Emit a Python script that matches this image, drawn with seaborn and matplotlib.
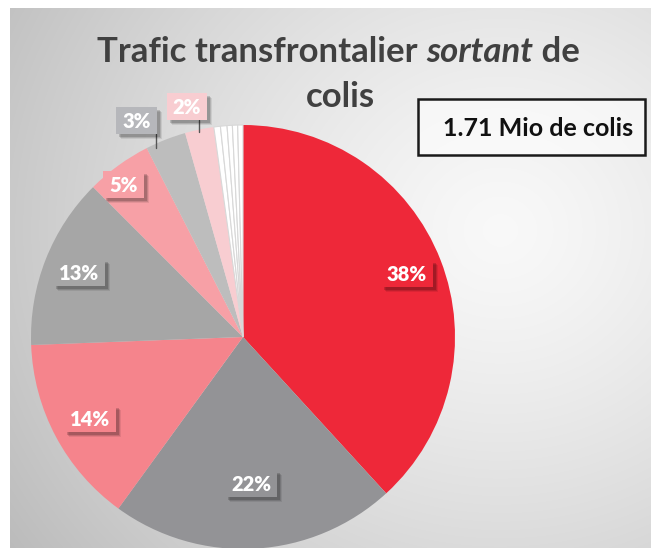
import numpy as np
import matplotlib
matplotlib.use("Agg")
import matplotlib.pyplot as plt
import seaborn as sns
from matplotlib.patches import Rectangle

# ---------------- data ----------------
shares = [38.2, 21.8, 14.4, 13.1, 5.0, 3.1, 2.2, 0.5, 0.5, 0.4, 0.4, 0.4]
share_labels = ["38%", "22%", "14%", "13%", "5%", "3%", "2%", "", "", "", "", ""]
slice_colors = ["#EE2839", "#939396", "#F5848C", "#A6A6A6", "#F7A0A6",
                "#BDBDBD", "#F8CDD1", "#FFFFFF", "#FFFFFF", "#FFFFFF",
                "#FFFFFF", "#FFFFFF"]
label_box_colors = ["#EE2839", "#939396", "#F5848C", "#A6A6A6", "#F7A0A6",
                    "#B6B7BB", "#F8CDD1"]
label_radius = [0.83, 0.69, 0.82, 0.83, 0.915, 1.14, 1.12]
label_angle_shift = [0, 0, 0, 0, 2, 4.7, 1.8]
title_parts = [("Trafic transfrontalier ", "normal"), ("sortant", "italic"), (" de", "normal")]
title_line2 = "colis"
total_text = "1.71 Mio de colis"

# ---------------- style ----------------
sns.set_theme(style="white")
plt.rcParams["font.family"] = ["Lato", "DejaVu Sans"]

W, H = 651, 548
fig = plt.figure(figsize=(W / 100, H / 100), dpi=100)
fig.patch.set_facecolor("white")

# background radial gradient
bg = fig.add_axes([0, 0, 1, 1])
yy, xx = np.mgrid[0:H, 0:W]
cx, cy = 500, 230
d = np.sqrt(((xx - cx) / 520.0) ** 2 + ((yy - cy) / 480.0) ** 2)
val = 0.975 - 0.20 * np.clip(d, 0, 1.2) ** 1.3
img = np.dstack([val, val, val])
img[:, :10, :] = 1.0
img[:8, :, :] = 1.0
bg.imshow(img, extent=[0, W, H, 0], aspect="auto", interpolation="bilinear")
bg.set_xlim(0, W)
bg.set_ylim(H, 0)
bg.axis("off")

# pie
cxp, cyp, R = 243, 337, 212
ax = fig.add_axes([(cxp - R) / W, (H - cyp - R) / H, 2 * R / W, 2 * R / H])
edge_cols = ["none"] * 7 + ["#D8D8D8"] * 5
wedges, _ = ax.pie(shares, colors=slice_colors, startangle=90, counterclock=False,
                   radius=1, wedgeprops=dict(linewidth=0.8))
for w, ec in zip(wedges, edge_cols):
    w.set_edgecolor(ec)
    if ec == "none":
        w.set_linewidth(0)
ax.set_xlim(-1, 1)
ax.set_ylim(-1, 1)
ax.axis("off")

# overlay in pixel coordinates for labels
ov = fig.add_axes([0, 0, 1, 1], zorder=5)
ov.set_xlim(0, W)
ov.set_ylim(H, 0)
ov.axis("off")
ov.patch.set_alpha(0)
renderer = fig.canvas.get_renderer()

for i, (w, lab) in enumerate(zip(wedges, share_labels)):
    if not lab:
        continue
    ang = np.deg2rad((w.theta1 + w.theta2) / 2 + label_angle_shift[i])
    r = label_radius[i]
    px = cxp + R * r * np.cos(ang)
    py = cyp - R * r * np.sin(ang)
    t = ov.text(px, py + 1, lab, ha="center", va="center", fontsize=14.5,
                fontweight="heavy", color="white", zorder=10)
    tw = t.get_window_extent(renderer).width
    bw, bh = tw + 12, 27
    for off, alpha in [(5, 0.08), (4, 0.12), (3, 0.16)]:
        ov.add_patch(Rectangle((px - bw / 2 + off, py - bh / 2 + off), bw, bh,
                               fc=(0, 0, 0, alpha), ec="none", zorder=7))
    ov.add_patch(Rectangle((px - bw / 2, py - bh / 2), bw, bh,
                           fc=label_box_colors[i], ec="none", zorder=8))
    if r > 1.05:
        ex = cxp + R * np.cos(ang) + 6
        ov.plot([ex, ex], [py + bh / 2, cyp - R * 0.995 * np.sin(ang)],
                color="#555555", lw=1, zorder=6)

# title (mixed bold / bold-italic), fitted to width
target_w = 483.0
base = 20
widths = []
for txt, sty in title_parts:
    t = fig.text(0, 0, txt, fontsize=base, fontweight="bold", style=sty)
    widths.append(t.get_window_extent(renderer).width)
    t.remove()
fs = base * target_w / sum(widths)
widths = [w_ * fs / base for w_ in widths]
x0 = 338.5 - sum(widths) / 2
base_y1 = H - 62
for (txt, sty), w_ in zip(title_parts, widths):
    fig.text(x0 / W, base_y1 / H, txt, fontsize=fs, fontweight="bold", style=sty,
             color="#404040", ha="left", va="baseline")
    x0 += w_
fig.text(340 / W, (H - 107) / H, title_line2, fontsize=fs, fontweight="bold",
         color="#404040", ha="center", va="baseline")

# total box
bx0, by0, bx1, by1 = 418, 99, 645, 155
fig.patches.append(Rectangle((bx0 / W, 1 - by1 / H), (bx1 - bx0) / W, (by1 - by0) / H,
                             transform=fig.transFigure, fc=(1, 1, 1, 0.55),
                             ec="#1a1a1a", lw=1.8))
fig.text(538 / W, (H - 128) / H, total_text, fontsize=18,
         fontweight="bold", color="#111111", ha="center", va="center")

fig.savefig("out.png", dpi=100)
